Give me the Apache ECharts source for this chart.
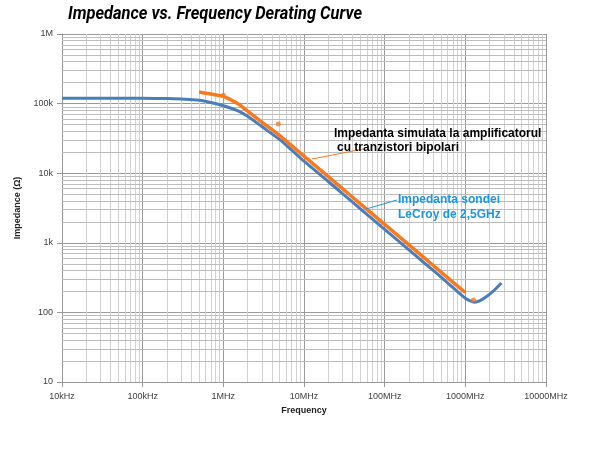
<!DOCTYPE html>
<html><head><meta charset="utf-8">
<script src="https://cdn.jsdelivr.net/npm/echarts@6/dist/echarts.min.js"></script>
<style>html,body{margin:0;padding:0;background:#fff}#c{width:598px;height:453px}</style>
</head><body><div id="c"></div>
<script>
// tick labels
const xTickValues = [1e4, 1e5, 1e6, 1e7, 1e8, 1e9, 1e10];
const xTickLabels = ['10kHz', '100kHz', '1MHz', '10MHz', '100MHz', '1000MHz', '10000MHz'];
const yTickValues = [10, 100, 1e3, 1e4, 1e5, 1e6];
const yTickLabels = ['10', '100', '1k', '10k', '100k', '1M'];

// LeCroy probe impedance (blue)
const probeFreq = [1e4, 1e5, 2e5, 3e5, 5e5, 7e5, 1e6, 1.5e6, 2e6, 3e6, 5e6, 7e6, 1e7, 2e7, 3e7, 5e7, 1e8, 2e8, 3e8, 5e8, 7e8, 1e9, 1.15e9, 1.3e9, 1.5e9, 1.8e9, 2.2e9, 2.8e9];
const probeZ = [119000, 119000, 118000, 116000, 112000, 104000, 93000, 79000, 65600, 46800, 30300, 21600, 14900, 7600, 5100, 3080, 1560, 790, 530, 322, 228, 160, 146, 140, 146, 166, 200, 265];

// simulated bipolar amplifier impedance (orange)
const ampFreq = [5e5, 7e5, 1e6, 1.5e6, 2e6, 3e6, 5e6, 1e7, 2e7, 3e7, 5e7, 1e8, 2e8, 3e8, 5e8, 7e8, 1e9];
const ampZ = [147000, 137000, 127000, 100000, 78000, 54300, 34700, 17600, 8930, 6000, 3630, 1840, 933, 627, 380, 273, 193];

// isolated orange points
const dotFreq = [1e6, 4.8e6, 1.27e9];
const dotZ = [132000, 51000, 151];

const zip = (a, b) => a.map((v, i) => [v, b[i]]);
const lbl = (vals, labels) => (v) => {
  const i = vals.findIndex(t => Math.abs(Math.log10(t) - Math.log10(v)) < 1e-6);
  return i >= 0 ? labels[i] : '';
};

const minorX = [], minorY = [];
for (let d = 4; d < 10; d++) for (let m = 2; m <= 9; m++) minorX.push({xAxis: m * Math.pow(10, d)});
for (let d = 1; d < 6; d++) for (let m = 2; m <= 9; m++) minorY.push({yAxis: m * Math.pow(10, d)});

const font = "'Liberation Sans', Arial, sans-serif";
const titleText = 'Impedance vs. Frequency Derating Curve';
const titleFont = 'italic bold 18px Roboto';
const ctx = document.createElement('canvas').getContext('2d');
ctx.font = titleFont;
const titleScale = 294 / ctx.measureText(titleText).width;

const chart = echarts.init(document.getElementById('c'));
chart.setOption({
  animation: false,
  backgroundColor: '#fff',
  grid: {left: 62, right: 52, top: 34, bottom: 71},
  xAxis: {
    type: 'log', logBase: 10, min: 1e4, max: 1e10,
    name: 'Frequency', nameLocation: 'middle', nameGap: 24,
    nameTextStyle: {fontFamily: font, fontWeight: 'bold', fontSize: 9, color: '#222'},
    axisLine: {lineStyle: {color: '#999'}},
    axisTick: {show: true, length: 5, lineStyle: {color: '#999'}},
    axisLabel: {formatter: lbl(xTickValues, xTickLabels), fontFamily: font, fontSize: 9, color: '#404040', margin: 10},
    splitLine: {show: true, lineStyle: {color: '#9a9a9a', width: 1}}
  },
  yAxis: {
    type: 'log', logBase: 10, min: 10, max: 1e6,
    name: 'Impedance (Ω)', nameLocation: 'middle', nameGap: 40,
    nameTextStyle: {fontFamily: font, fontWeight: 'bold', fontSize: 9, color: '#222'},
    axisLine: {show: true, lineStyle: {color: '#999'}},
    axisTick: {show: true, length: 5, lineStyle: {color: '#999'}},
    axisLabel: {formatter: lbl(yTickValues, yTickLabels), fontFamily: font, fontSize: 9, color: '#404040', margin: 9},
    splitLine: {show: true, lineStyle: {color: '#9a9a9a', width: 1}}
  },
  series: [
    {
      type: 'line', data: [], z: 1, silent: true,
      markLine: {z: 1, silent: true, symbol: ['none', 'none'], label: {show: false}, animation: false,
        lineStyle: {color: '#d2d2d2', width: 1, type: 'solid'}, data: minorX}
    },
    {
      type: 'line', data: [], z: 1, silent: true,
      markLine: {z: 1, silent: true, symbol: ['none', 'none'], label: {show: false}, animation: false,
        lineStyle: {color: '#bdbdbd', width: 1, type: 'solid'}, data: minorY}
    },
    {
      name: 'probe', type: 'line', data: zip(probeFreq, probeZ), smooth: 0.3, showSymbol: false, z: 3,
      lineStyle: {color: '#4A7EBB', width: 3}, itemStyle: {color: '#4A7EBB'}
    },
    {
      name: 'amp', type: 'line', data: zip(ampFreq, ampZ), smooth: 0.3, showSymbol: false, z: 4,
      lineStyle: {color: '#F77A1F', width: 3.5}, itemStyle: {color: '#F77A1F'}
    },
    {
      name: 'dots', type: 'scatter', data: zip(dotFreq, dotZ), symbol: 'circle', symbolSize: 5, z: 5,
      itemStyle: {color: '#F77A1F'}
    }
  ],
  graphic: [
    {type: 'text', x: 68, y: 14, scaleX: titleScale, z: 10,
      style: {text: titleText, font: titleFont, fill: '#000', verticalAlign: 'middle', align: 'left'}},
    {type: 'line', shape: {x1: 312, y1: 159, x2: 363, y2: 149}, style: {stroke: '#F77A1F', lineWidth: 1}, z: 10},
    {type: 'text', left: 334, top: 128, style: {text: 'Impedanta simulata la amplificatorul', fontFamily: font, fontWeight: 'bold', fontSize: 12, fill: '#000'}, z: 10},
    {type: 'text', left: 337, top: 142, style: {text: 'cu tranzistori bipolari', fontFamily: font, fontWeight: 'bold', fontSize: 12, fill: '#000'}, z: 10},
    {type: 'line', shape: {x1: 366, y1: 209, x2: 397, y2: 200}, style: {stroke: '#1E96DC', lineWidth: 1}, z: 10},
    {type: 'text', left: 398, top: 194, style: {text: 'Impedanta sondei', fontFamily: font, fontWeight: 'bold', fontSize: 12, fill: '#1E96DC'}, z: 10},
    {type: 'text', left: 398, top: 209, style: {text: 'LeCroy de 2,5GHz', fontFamily: font, fontWeight: 'bold', fontSize: 12, fill: '#1E96DC'}, z: 10}
  ]
});
</script></body></html>
